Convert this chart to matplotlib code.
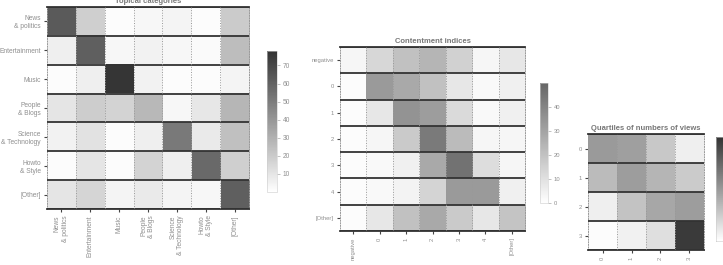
import numpy as np
import matplotlib
matplotlib.use('Agg')
import matplotlib.pyplot as plt
from matplotlib.colors import LinearSegmentedColormap

plt.rcParams['font.family'] = ['Liberation Sans', 'DejaVu Sans']

### Data ###

topic_labels = ['News\n& politics', 'Entertainment', 'Music', 'People\n& Blogs',
                'Science\n& Technology', 'Howto\n& Style', '[Other]']
topic_values = np.array([
    [63, 18, 1, 3, 4, 1, 20],
    [6, 61, 3, 5, 3, 2, 25],
    [1, 6, 77, 5, 1, 1, 4],
    [10, 19, 17, 27, 3, 9, 28],
    [5, 11, 1, 6, 51, 8, 24],
    [1, 10, 1, 17, 6, 57, 18],
    [10, 16, 4, 8, 4, 3, 61],
])

content_labels = ['negative', '0', '1', '2', '3', '4', '[Other]']
content_values = np.array([
    [3, 13, 20, 24, 15, 3, 8],
    [1, 33, 28, 20, 8, 2, 5],
    [1, 8, 35, 32, 12, 2, 5],
    [1, 3, 17, 43, 22, 3, 3],
    [1, 2, 5, 28, 46, 11, 3],
    [1, 2, 4, 14, 33, 33, 5],
    [1, 8, 20, 28, 17, 8, 19],
])

quartile_labels = ['0', '1', '2', '3']
quartile_values = np.array([
    [37, 35, 20, 6],
    [25, 36, 27, 19],
    [6, 22, 32, 36],
    [1, 5, 12, 72],
])

### Helpers ###

txt_col = '#8f8f8f'
dark_col = '#333333'

def grey_map(dark):
    return LinearSegmentedColormap.from_list('g', ['#ffffff', dark])

def draw_heat(fig, rect, cbar_rect, data, labels, title, cmap, vmax, cticks, fs):
    ax = fig.add_axes(rect)
    n = data.shape[0]
    im = ax.imshow(data, cmap=cmap, vmin=0, vmax=vmax, aspect='auto',
                   interpolation='nearest')

    # Solid lines between rows, dotted between columns
    for i in range(n + 1):
        ax.axhline(i - 0.5, color=dark_col, lw=1.3, zorder=3)
    for j in range(1, n):
        ax.axvline(j - 0.5, color='#999999', lw=0.7, ls=':', zorder=3)
    for side in ['left', 'right']:
        ax.spines[side].set_linestyle(':')
        ax.spines[side].set_color('#999999')
        ax.spines[side].set_linewidth(0.7)
    for side in ['top', 'bottom']:
        ax.spines[side].set_color(dark_col)
        ax.spines[side].set_linewidth(1.3)

    ax.set_xticks(range(n))
    ax.set_yticks(range(n))
    ax.set_yticklabels(labels, fontsize=fs, color=txt_col, multialignment='right')
    ax.set_xticklabels(labels, fontsize=fs, color=txt_col, rotation=90,
                       va='top', ha='center', multialignment='right')
    ax.tick_params(length=2.5, width=0.8, color='#444444', pad=2)
    ax.set_title(title, fontsize=5.5, color='#777777', fontweight='bold', pad=3)

    cax = fig.add_axes(cbar_rect)
    cb = fig.colorbar(im, cax=cax)
    cb.outline.set_linewidth(0.4)
    cb.outline.set_edgecolor('#cccccc')
    cb.set_ticks(cticks)
    cax.tick_params(labelsize=fs, labelcolor=txt_col, length=2, width=0.5,
                    color='#aaaaaa', pad=2)
    return ax

### Figure ###

fig = plt.figure(figsize=(7.23, 2.65), dpi=100)

draw_heat(fig, [0.065, 0.2113, 0.2794, 0.7623], [0.3693, 0.2755, 0.0138, 0.532],
          topic_values, topic_labels, 'Topical categories',
          grey_map(dark_col), 78, [10, 20, 30, 40, 50, 60, 70], 4.8)

draw_heat(fig, [0.4703, 0.1283, 0.2559, 0.6943], [0.7469, 0.234, 0.0111, 0.4528],
          content_values, content_labels, 'Contentment indices',
          grey_map('#666666'), 50, [0, 10, 20, 30, 40], 4.2)

# last colorbar runs past the right edge, as in the original
draw_heat(fig, [0.8133, 0.0566, 0.1604, 0.4377], [0.9903, 0.0906, 0.02, 0.392],
          quartile_values, quartile_labels, 'Quartiles of numbers of views',
          grey_map(dark_col), 75, [10, 20, 30, 40, 50, 60, 70], 4.2)

fig.savefig('out.png', dpi=100)
